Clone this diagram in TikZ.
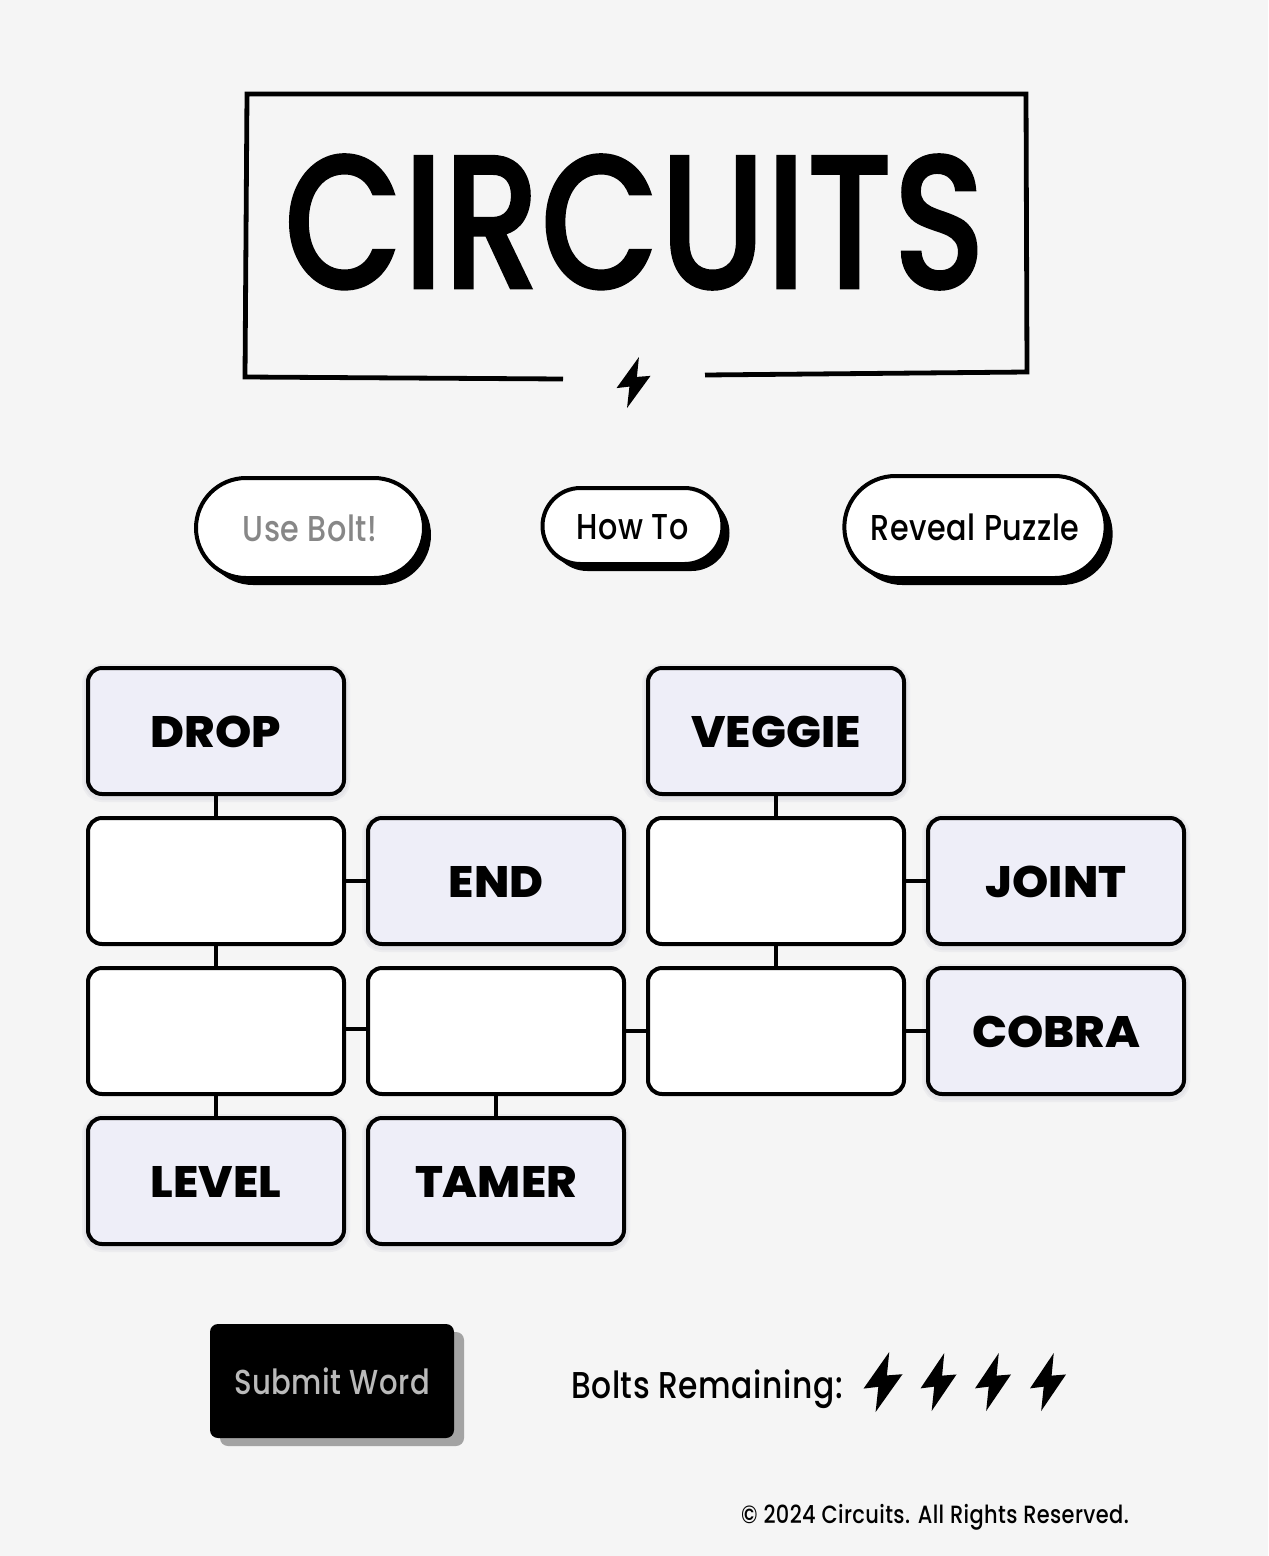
\documentclass[tikz,border=0pt]{standalone}
\usepackage{fontspec}
\setmainfont{Poppins Medium}[FakeStretch=0.84,LetterSpace=1.5]
\newfontfamily\titlefont{Poppins Medium}[FakeBold=1.2]
\newfontfamily\wordfont{Poppins ExtraBold}[FakeStretch=1.05]
\usetikzlibrary{shadows,positioning,shapes.misc}

\definecolor{pagegray}{HTML}{F5F5F5}
\definecolor{wordfill}{HTML}{EEEEF8}
\definecolor{glowblue}{HTML}{55557A}

\tikzset{
  bolt/.pic={\fill (.66,0)--(0,.61)--(.38,.58)--(.31,1)--(1,.37)--(.6,.39)--cycle;}
}

\begin{document}
\begin{tikzpicture}[x=.75pt,y=-.75pt]
  \tikzstyle{every path}=[line width=3pt]

  \edef\sizeboxw{192pt}
  \edef\sizeboxh{94.5pt}
  \tikzstyle{blankbox}=[draw,fill=white,rounded corners=10.5pt,minimum width=\sizeboxw,minimum height=\sizeboxh,inner sep=0pt]
  \tikzstyle{wordbox}=[blankbox,fill=wordfill,font=\wordfont\fontsize{33}{33}\selectfont,text height=25pt,text depth=0pt,
    preaction={draw=glowblue,draw opacity=.05,line width=9pt,transform canvas={yshift=-1.5pt}},
    preaction={draw=glowblue,draw opacity=.05,line width=6pt,transform canvas={yshift=-1.5pt}}]
  \tikzstyle{pillbutton}=[rounded rectangle,draw,fill=white,text height=21.5pt,text depth=1pt,inner sep=0pt,
    font=\fontsize{27}{27}\selectfont,drop shadow={shadow xshift=5.25pt,shadow yshift=-5.25pt,fill=black,opacity=1}]
  \tikzstyle{link}=[draw]

  % page and title
  \fill[pagegray] (0,0) rectangle (1268,1556);
  \draw [line width=3.6pt] (563,379) -- (245,377) -- (247,94) -- (1026,94) -- (1027,372) -- (705,375);
  \node (title) at (635,222) {\resizebox{526pt}{100.5pt}{\titlefont CIRCUITS}};
  \pic[xscale=34,yscale=51] at (616.5,357) {bolt};

  % buttons
  \node [pillbutton,minimum width=171pt,minimum height=75pt,text=black!47] (usebolt) at (310,528) {Use Bolt!};
  \node [pillbutton,minimum width=135pt,minimum height=57pt] (howto) at (632.5,526) {How To};
  \node [pillbutton,minimum width=196pt,minimum height=76.5pt] (reveal) at (975,527) {Reveal Puzzle};

  % puzzle board
  \begin{scope}[node distance=15pt]
  \node [wordbox] (drop) at (216,731) {DROP};
  \node [blankbox,below=of drop] (blankA) {};
  \node [blankbox,below=of blankA] (blankB) {};
  \node [wordbox,below=of blankB] (level) {LEVEL};
  \node [wordbox,right=of blankA] (endw) {END};
  \node [blankbox,right=of blankB] (blankC) {};
  \node [wordbox,right=of level] (tamer) {TAMER};
  \node [wordbox] (veggie) at (776,731) {VEGGIE};
  \node [blankbox,below=of veggie] (blankD) {};
  \node [blankbox,below=of blankD] (blankE) {};
  \node [wordbox,right=of blankD] (joint) {JOINT};
  \node [wordbox,right=of blankE] (cobra) {COBRA};
  \end{scope}

  \draw [link] (drop) -- (blankA);
  \draw [link] (blankA) -- (blankB);
  \draw [link] (blankB) -- (level);
  \draw [link] (blankC) -- (tamer);
  \draw [link] (veggie) -- (blankD);
  \draw [link] (blankD) -- (blankE);
  \draw [link] (blankA) -- (endw);
  \draw [link] (blankD) -- (joint);
  \draw [link] ([yshift=1.5pt]blankB.east) -- ([yshift=1.5pt]blankC.west);
  \draw [link] (blankC) -- (blankE);
  \draw [link] (blankE) -- (cobra);

  % footer
  \node [rounded corners=6pt,fill=black,text=black!27,minimum width=183pt,minimum height=85.5pt,inner sep=0pt,
    font=\fontsize{26}{26}\selectfont,text height=21pt,text depth=1pt,
    drop shadow={shadow xshift=7.5pt,shadow yshift=-6pt,fill=black!36,opacity=1}] (submit) at (332,1381) {Submit Word};
  \node [font=\fontsize{28}{28}\selectfont,text height=21pt,text depth=1pt,inner sep=0pt] (remaining) at (707,1385) {Bolts Remaining:};
  \pic[xscale=39,yscale=60] at (863.5,1352) {bolt};
  \pic[xscale=36,yscale=58] at (920.5,1353) {bolt};
  \pic[xscale=36,yscale=58] at (975,1353) {bolt};
  \pic[xscale=36,yscale=58] at (1030,1353) {bolt};
  \node [font=\fontsize{18.7}{18.7}\selectfont,inner sep=0pt] (copyright) at (935,1517) {© 2024 Circuits. All Rights Reserved.};
\end{tikzpicture}
\end{document}
